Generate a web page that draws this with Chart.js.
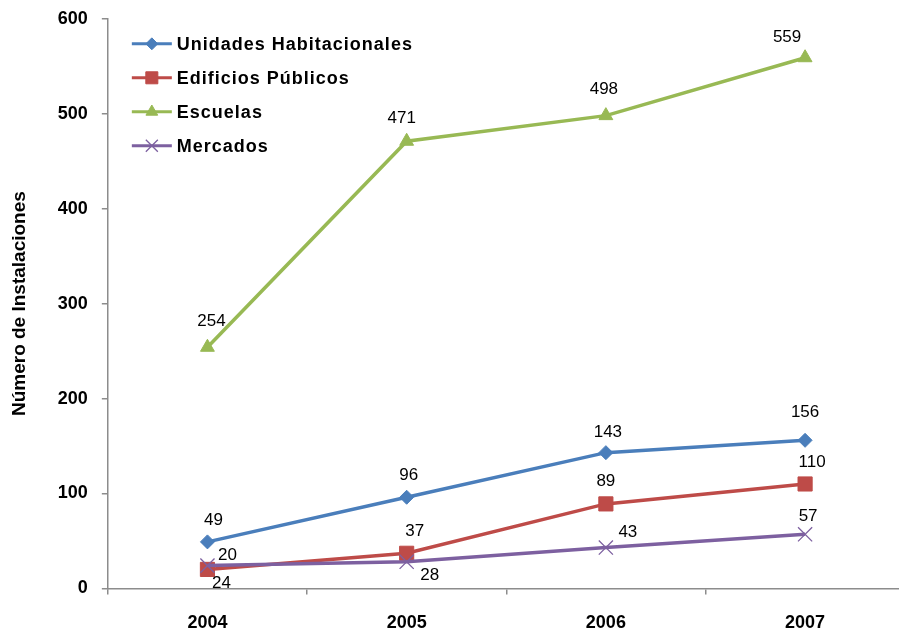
<!DOCTYPE html>
<html>
<head>
<meta charset="utf-8">
<script src="https://cdn.jsdelivr.net/npm/chart.js@4"></script>
<style>
    html, body { margin: 0; padding: 0; background: #fff; overflow: hidden; }
    #wrap { width: 916px; height: 640px; margin-top: -6px; }
</style>
</head>
<body>
<div id="wrap"><canvas id="installChart" width="916" height="640"></canvas></div>
<script>
// datos
const years = ['2004', '2005', '2006', '2007'];
const seriesNames = ['Unidades Habitacionales', 'Edificios Públicos', 'Escuelas', 'Mercados'];
const unidades = [49, 96, 143, 156];
const edificios = [20, 37, 89, 110];
const escuelas = [254, 471, 498, 559];
const mercados = [24, 28, 43, 57];

const colors = ['#4A7EBB', '#BE4B48', '#98B954', '#7D60A0'];
const pointStyles = ['rectRot', 'rect', 'triangle', 'crossRot'];
const pointRadii = [7, 10, 8, 10];
const drawOrder = [1, 2, 0, -1];

// desplazamiento de cada etiqueta respecto a su punto (dx, dy)
const labelOffsets = [
    [[6, -22], [2, -22], [2, -20], [0, -28]],
    [[20, -14], [8, -22], [0, -23], [7, -22]],
    [[4, -26], [-5, -23], [-2, -26], [-18, -20]],
    [[14, 18], [23, 13], [22, -15], [3, -18]]
];

const font = 'Liberation Sans, Arial, sans-serif';

const dataLabels = {
    id: 'dataLabels',
    afterDatasetsDraw(chart) {
        const ctx = chart.ctx;
        ctx.save();
        ctx.font = '17px ' + font;
        ctx.fillStyle = '#000';
        ctx.textAlign = 'center';
        ctx.textBaseline = 'middle';
        chart.data.datasets.forEach((ds, i) => {
            chart.getDatasetMeta(i).data.forEach((pt, j) => {
                const off = labelOffsets[i][j];
                ctx.fillText(String(ds.data[j]), pt.x + off[0], pt.y + off[1]);
            });
        });
        ctx.restore();
    }
};

const insideLegend = {
    id: 'insideLegend',
    afterDraw(chart) {
        const ctx = chart.ctx;
        const x0 = chart.chartArea.left + 24;
        let y = chart.chartArea.top + 25;
        ctx.save();
        chart.data.datasets.forEach((ds) => {
            ctx.strokeStyle = ds.borderColor;
            ctx.fillStyle = ds.backgroundColor;
            ctx.lineWidth = 3;
            ctx.beginPath();
            ctx.moveTo(x0, y);
            ctx.lineTo(x0 + 40, y);
            ctx.stroke();
            ctx.lineWidth = ds.pointBorderWidth;
            Chart.helpers.drawPoint(ctx, {
                pointStyle: ds.pointStyle,
                radius: ds.pointRadius * 0.85,
                borderWidth: ds.pointBorderWidth
            }, x0 + 20, y);
            ctx.fillStyle = '#000';
            ctx.font = 'bold 18px ' + font;
            ctx.letterSpacing = '1px';
            ctx.textAlign = 'left';
            ctx.textBaseline = 'middle';
            ctx.fillText(ds.label, x0 + 45, y + 1);
            ctx.letterSpacing = '0px';
            y += 34;
        });
        ctx.restore();
    }
};

const seriesValues = [unidades, edificios, escuelas, mercados];
const datasets = seriesValues.map((vals, i) => ({
    label: seriesNames[i],
    data: vals,
    order: drawOrder[i],
    borderColor: colors[i],
    backgroundColor: colors[i],
    borderWidth: 3.5,
    pointStyle: pointStyles[i],
    pointRadius: pointRadii[i],
    pointBorderWidth: pointStyles[i] === 'crossRot' ? 1.3 : 1,
    pointBorderColor: colors[i],
    pointBackgroundColor: colors[i],
    tension: 0
}));

const ctx = document.getElementById('installChart').getContext('2d');
window.installChart = new Chart(ctx, {
    type: 'line',
    data: { labels: years, datasets: datasets },
    options: {
        responsive: false,
        animation: false,
        devicePixelRatio: 1,
        layout: { padding: { top: 0, right: 4, bottom: -18, left: 8 } },
        plugins: {
            legend: { display: false },
            tooltip: { enabled: false }
        },
        scales: {
            x: {
                offset: true,
                border: { color: '#8C8C8C', width: 1.5 },
                grid: { offset: true, drawOnChartArea: false, tickLength: 6, color: '#8C8C8C', lineWidth: 1.5 },
                ticks: { color: '#000', padding: 18, font: { family: font, size: 18, weight: 'bold' } }
            },
            y: {
                min: 0,
                max: 600,
                border: { color: '#8C8C8C', width: 1.5 },
                grid: { drawOnChartArea: false, tickLength: 6, color: '#8C8C8C', lineWidth: 1.5 },
                ticks: { stepSize: 100, color: '#000', padding: 14, font: { family: font, size: 18, weight: 'bold' } },
                title: {
                    display: true,
                    text: 'Número de Instalaciones',
                    color: '#000',
                    padding: { top: 0, bottom: 13 },
                    font: { family: font, size: 19, weight: 'bold' }
                }
            }
        }
    },
    plugins: [dataLabels, insideLegend]
});
</script>
</body>
</html>
